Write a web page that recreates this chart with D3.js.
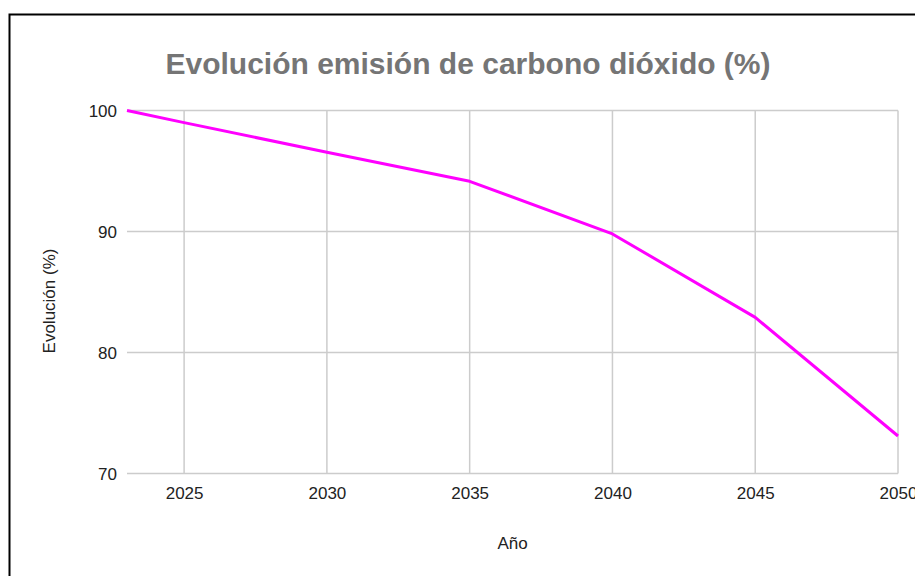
<!DOCTYPE html>
<html>
<head>
<meta charset="utf-8">
<script src="https://cdn.jsdelivr.net/npm/d3@7"></script>
<style>
  html, body { margin: 0; padding: 0; background: #fff; }
  svg { display: block; }
</style>
</head>
<body>
<svg id="chart" width="915" height="576"></svg>
<script>
const years = [2023, 2025, 2030, 2035, 2040, 2045, 2050];
const values = [100, 99.0, 96.55, 94.15, 89.8, 82.9, 73.1];
const xTicks = [2025, 2030, 2035, 2040, 2045, 2050];
const yTicks = [70, 80, 90, 100];
const title = "Evolución emisión de carbono dióxido (%)";
const xTitle = "Año";
const yTitle = "Evolución (%)";

const svg = d3.select("#chart");
const font = "'Liberation Sans', Arial, sans-serif";

// outer frame
svg.append("rect")
  .attr("x", 9.5).attr("y", 14.5)
  .attr("width", 1000).attr("height", 1000)
  .attr("fill", "none").attr("stroke", "#000").attr("stroke-width", 2);

const pLeft = 127, pRight = 898, pTop = 110.5, pBottom = 473.5;
const x = d3.scaleLinear().domain([2023, 2050]).range([pLeft, pRight]);
const y = d3.scaleLinear().domain([70, 100]).range([pBottom, pTop]);

// gridlines
svg.append("g")
  .selectAll("line").data(yTicks).join("line")
  .attr("x1", pLeft).attr("x2", pRight)
  .attr("y1", d => y(d)).attr("y2", d => y(d))
  .attr("stroke", "#cccccc").attr("stroke-width", 1.5);
svg.append("g")
  .selectAll("line").data(xTicks).join("line")
  .attr("x1", d => x(d)).attr("x2", d => x(d))
  .attr("y1", pTop).attr("y2", pBottom)
  .attr("stroke", "#cccccc").attr("stroke-width", 1.5);

// axes labels via d3 axes (no domain/ticks lines)
const xAxis = svg.append("g")
  .attr("transform", `translate(0,${pBottom})`)
  .call(d3.axisBottom(x).tickValues(xTicks).tickFormat(d3.format("d")).tickSize(0).tickPadding(0));
xAxis.select(".domain").remove();
xAxis.selectAll("text")
  .attr("y", 25.5).attr("dy", null)
  .attr("font-family", font).attr("font-size", 17).attr("fill", "#222");

const yAxis = svg.append("g")
  .attr("transform", `translate(${pLeft},0)`)
  .call(d3.axisLeft(y).tickValues(yTicks).tickFormat(d3.format("d")).tickSize(0).tickPadding(10));
yAxis.select(".domain").remove();
yAxis.selectAll("text")
  .attr("dy", "0.35em")
  .attr("font-family", font).attr("font-size", 17).attr("fill", "#222");

// line
const line = d3.line().x((d, i) => x(years[i])).y(d => y(d));
svg.append("path")
  .datum(values)
  .attr("d", line)
  .attr("fill", "none")
  .attr("stroke", "#ff00ff")
  .attr("stroke-width", 3)
  .attr("stroke-linejoin", "round");

// title
svg.append("text")
  .attr("x", 468).attr("y", 74)
  .attr("text-anchor", "middle")
  .attr("font-family", font).attr("font-weight", "bold")
  .attr("font-size", 30).attr("fill", "#757575")
  .text(title);

// axis titles
svg.append("text")
  .attr("x", 512.5).attr("y", 548.5)
  .attr("text-anchor", "middle")
  .attr("font-family", font).attr("font-size", 17).attr("fill", "#222")
  .text(xTitle);

svg.append("text")
  .attr("transform", "translate(54.5,301) rotate(-90)")
  .attr("text-anchor", "middle")
  .attr("font-family", font).attr("font-size", 17).attr("fill", "#222")
  .text(yTitle);
</script>
</body>
</html>
